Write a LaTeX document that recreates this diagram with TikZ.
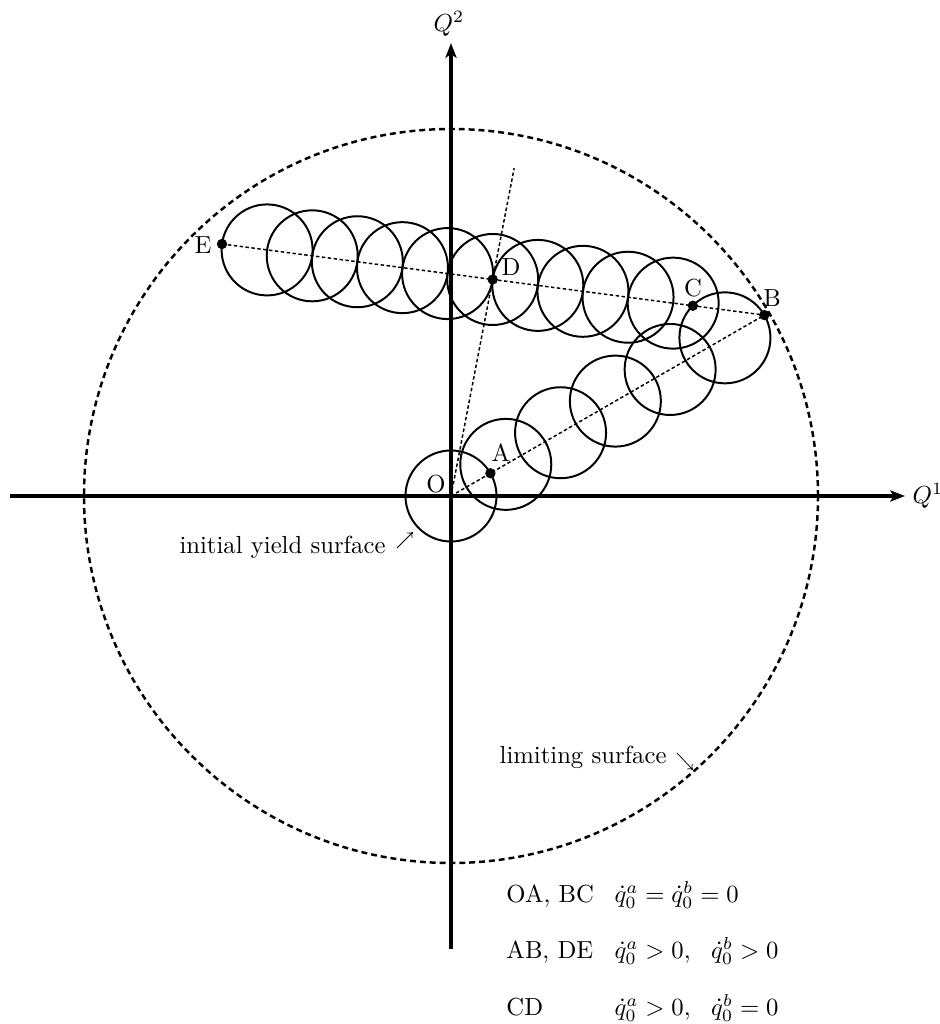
\documentclass[tikz,border=0pt]{standalone}
\usetikzlibrary{arrows.meta,calc}
\begin{document}
\begin{tikzpicture}[x=0.01424cm,y=0.01424cm,
  axis/.style={line width=1.6pt,-{Stealth[length=6pt,width=4.5pt,inset=1.5pt]}},
  ys/.style={line width=0.8pt},
  lim/.style={line width=1pt,dash pattern=on 2.4pt off 1.6pt},
  trail/.style={line width=0.6pt,dash pattern=on 1.4pt off 1pt},
  pt/.style={circle,fill,inner sep=0pt,minimum size=4.2pt},
  plab/.style={inner sep=0pt},
  txt/.style={inner sep=0pt},
  pointer/.style={line width=0.3pt,-{To[length=2pt,width=3pt]}}]
\useasboundingbox (-451,-528) rectangle (489,496);
% key points
\coordinate (O) at (0,0);
\coordinate (A) at (30:45.5);
\coordinate (B) at (30:361.8);
\coordinate (E) at (-229,252);
\coordinate (D) at ($(E)!0.49914!(B)$);
\coordinate (C) at ($(B)!0.1318!(E)$);
\coordinate (Dtop) at ($(O)!1.514!(D)$);
% yield surfaces along O-B
\foreach \k in {0,...,5}
  \draw[ys] (30:{\k*63.26}) circle (45.5);
% yield surfaces along E-B
\foreach \k in {1,...,10}
  \draw[ys] ($(E)!{\k*0.08319}!(B)$) circle (45.5);
% limiting surface
\draw[lim] (O) circle (367);
% axes
\coordinate (xl) at (-441,0);
\coordinate (xr) at (454,0);
\coordinate (yb) at (0,-453);
\coordinate (yt) at (0,453);
\draw[axis] (xl) -- (xr);
\draw[axis] (yb) -- (yt);
\node (Q1) at (477,0) {$Q^1$};
\node (Q2) at (-2,472) {$Q^2$};
% loading paths
\draw[trail] (O) -- (B);
\draw[trail] (E) -- (B);
\draw[trail] (O) -- (Dtop);
% points
\node[pt] (Ad) at (A) {};
\node[pt] (Bd) at (B) {};
\node[pt] (Cd) at (C) {};
\node[pt] (Dd) at (D) {};
\node[pt] (Ed) at (E) {};
\node[plab] (Ol) at (-15,12) {O};
\node[plab] (Al) at (50,43) {A};
\node[plab] (Bl) at (321,198) {B};
\node[plab] (Cl) at (242,208) {C};
\node[plab] (Dl) at (60,229) {D};
\node[plab] (El) at (-248,251) {E};
% annotations
\node[txt,anchor=base east] (iy) at (-65,-58) {initial yield surface};
\coordinate (iy1) at (-54,-52);
\coordinate (iy2) at (-38,-36);
\draw[pointer] (iy1) -- (iy2);
\node[txt,anchor=base east] (ls) at (216,-267) {limiting surface};
\coordinate (ls1) at (226,-257);
\coordinate (ls2) at (242,-274);
\draw[pointer] (ls1) -- (ls2);
% legend
\node[txt,anchor=base west] (legend) at (55,-406) {%
  \begin{tabular}[t]{@{}l@{\hspace{8.4pt}}l@{}}
  OA, BC & $\dot q^a_0=\dot q^b_0=0$\\[10.9pt]
  AB, DE & $\dot q^a_0>0,\ \ \dot q^b_0>0$\\[10.9pt]
  CD & $\dot q^a_0>0,\ \ \dot q^b_0=0$
  \end{tabular}};
\end{tikzpicture}
\end{document}
